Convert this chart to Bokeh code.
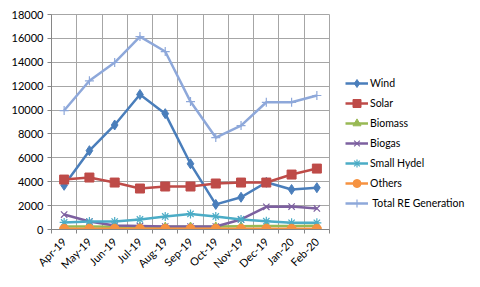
import math
from bokeh.plotting import figure
from bokeh.models import (ColumnDataSource, FixedTicker, Legend, LegendItem,
                          Range1d)
from bokeh.embed import file_html
from bokeh.resources import INLINE

months = ["Apr-19", "May-19", "Jun-19", "Jul-19", "Aug-19", "Sep-19",
          "Oct-19", "Nov-19", "Dec-19", "Jan-20", "Feb-20"]
wind = [3700, 6600, 8750, 11300, 9700, 5500, 2100, 2700, 3950, 3350, 3500]
solar = [4180, 4350, 3930, 3430, 3600, 3600, 3850, 3930, 3930, 4600, 5100]
biomass = [250, 250, 230, 230, 230, 240, 250, 270, 290, 300, 310]
biogas = [1250, 670, 330, 290, 250, 250, 250, 840, 1900, 1920, 1760]
small_hydel = [590, 670, 670, 840, 1090, 1300, 1090, 840, 700, 560, 560]
others = [60, 60, 60, 60, 60, 60, 60, 60, 60, 60, 60]
total = [9960, 12450, 13980, 16150, 14900, 10710, 7700, 8700, 10650, 10650, 11220]
y_ticks = [0, 2000, 4000, 6000, 8000, 10000, 12000, 14000, 16000, 18000]

FONT = "Lato"
idx = list(range(len(months)))
bounds = [i - 0.5 for i in range(len(months) + 1)]
src = ColumnDataSource(dict(x=idx, wind=wind, solar=solar, biomass=biomass,
                            biogas=biogas, small_hydel=small_hydel,
                            others=others, total=total))

p = figure(frame_width=278, frame_height=215, output_backend="svg",
           toolbar_location=None,
           x_range=Range1d(-0.5, len(months) - 0.5), y_range=Range1d(0, 18000),
           min_border_left=51, min_border_right=4, min_border_top=14,
           min_border_bottom=42)
p.outline_line_color = "#A6A6A6"

# grid
p.xgrid.ticker = FixedTicker(ticks=bounds)
p.ygrid.ticker = FixedTicker(ticks=y_ticks)
p.xgrid.grid_line_color = "#A6A6A6"
p.ygrid.grid_line_color = "#A6A6A6"

# axes
p.xaxis.ticker = FixedTicker(ticks=idx, minor_ticks=bounds)
p.xaxis.major_label_overrides = {i: m for i, m in enumerate(months)}
p.xaxis.major_label_orientation = math.pi / 4
p.xaxis.major_tick_line_color = None
p.xaxis.minor_tick_out = 4
p.xaxis.minor_tick_in = 0
p.xaxis.minor_tick_line_color = "#868686"
p.yaxis.ticker = FixedTicker(ticks=y_ticks)
p.yaxis.major_tick_out = 4
p.yaxis.major_tick_in = 0
p.yaxis.minor_tick_line_color = None
p.yaxis.major_tick_line_color = "#868686"
for ax in (p.xaxis, p.yaxis):
    ax.axis_line_color = "#868686"
    ax.major_label_text_font = FONT
    ax.major_label_text_font_size = "11px"
    ax.major_label_text_color = "#000000"
    ax.major_label_standoff = 4

LW = 2.5
series = [
    ("Wind", "wind", "#4A7EBB", "diamond", 10),
    ("Solar", "solar", "#BE4B48", "square", 9),
    ("Biomass", "biomass", "#98B954", "triangle", 8),
    ("Biogas", "biogas", "#7D60A0", "x", 9),
    ("Small Hydel", "small_hydel", "#4BACC6", "asterisk", 9),
    ("Others", "others", "#F69240", "circle", 9),
    ("Total RE Generation", "total", "#8EA8DA", "cross", 9),
]
items = []
for name, col, color, marker, size in series:
    r1 = p.line("x", col, source=src, line_color=color, line_width=LW)
    if marker in ("x", "asterisk", "cross"):
        r2 = p.scatter("x", col, source=src, marker=marker, size=size,
                       line_color=color, line_width=1.2, fill_color=color)
    else:
        r2 = p.scatter("x", col, source=src, marker=marker, size=size,
                       line_color=color, fill_color=color)
    items.append(LegendItem(label=name if name != "Total RE Generation"
                            else " Total RE Generation", renderers=[r1, r2]))

legend = Legend(items=items, location="bottom_left")
legend.padding = 0
legend.margin = 16
legend.spacing = 0
legend.glyph_width = 23
legend.glyph_height = 20
legend.label_height = 20
legend.label_standoff = 2
legend.border_line_color = None
legend.background_fill_alpha = 0
legend.label_text_font = FONT
legend.label_text_font_size = "10.5px"
legend.label_text_color = "#000000"
p.add_layout(legend, "right")

open("out.html", "w").write(file_html(p, INLINE))
